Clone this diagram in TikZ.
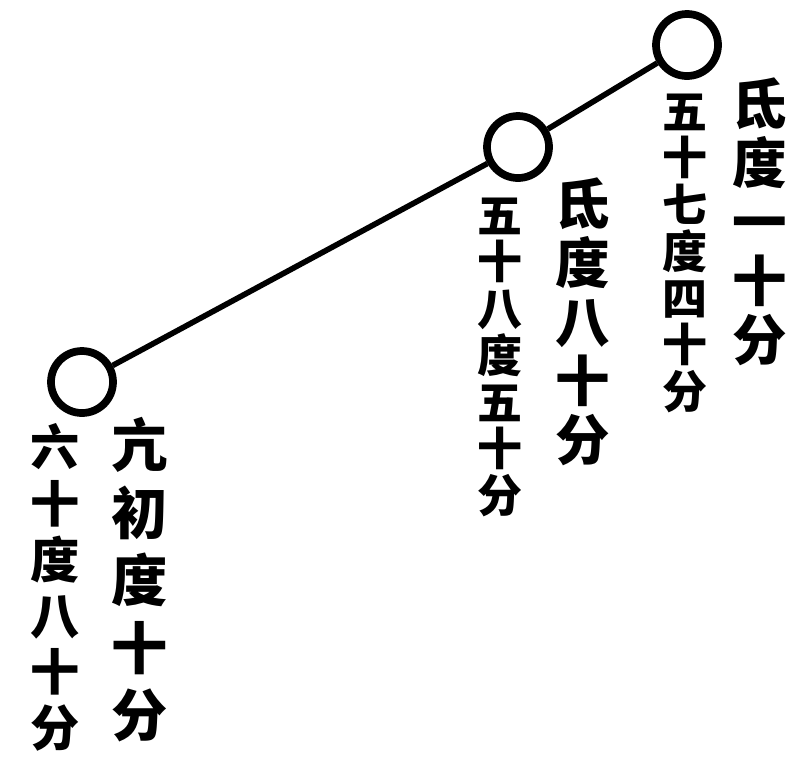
\documentclass[tikz,border=0pt]{standalone}
\usepackage{fontspec}
\usepackage{xcolor}
\usepackage{tikz}
\usetikzlibrary{
  positioning,
  calc
}
\newfontfamily\cjk{Noto Sans CJK SC}
\definecolor{inkblack}{RGB}{0, 0, 0}
\tikzset{
  starnode/.style = {
    circle, draw=inkblack, line width=2.2pt,
    fill=white, minimum size=0.62cm, inner sep=0pt
  },
  link/.style = {draw=inkblack, line width=1.6pt},
  bigcol/.style = {
    inner sep=0pt, anchor=north, align=center, text=inkblack,
    font=\cjk\bfseries\fontsize{15.5}{16.8}\selectfont
  },
  widecol/.style = {
    inner sep=0pt, anchor=north, align=center, text=inkblack,
    font=\cjk\bfseries\fontsize{16}{19.2}\selectfont
  },
  midcol/.style = {
    inner sep=0pt, anchor=north, align=center, text=inkblack,
    font=\cjk\bfseries\fontsize{14}{16}\selectfont
  },
  smallcol/.style = {
    inner sep=0pt, anchor=north, align=center, text=inkblack,
    font=\cjk\bfseries\fontsize{12.8}{13.3}\selectfont
  },
}

\begin{document}
\begin{tikzpicture}
  \useasboundingbox (0,0) rectangle (8.09,7.78);

  % stars
  \node[starnode] (starL) at (0.82,3.96) {};
  \node[starnode] (starM) at (5.18,6.31) {};
  \node[starnode] (starR) at (6.87,7.33) {};

  \draw[link] (starL) -- (starM);
  \draw[link] (starM) -- (starR);

  % positions, right column first
  \node[widecol]  (ralL) at (1.40,3.61) {亢\\初\\度\\十\\分};
  \node[midcol]   (decL) at (0.55,3.55) {六\\十\\度\\八\\十\\分};
  \node[bigcol]   (ralM) at (5.83,6.01) {氐\\度\\八\\十\\分};
  \node[smallcol] (decM) at (5.00,5.81) {五\\十\\八\\度\\五\\十\\分};
  \node[bigcol]   (ralR) at (7.60,7.01) {氐\\度\\一\\十\\分};
  \node[smallcol] (decR) at (6.85,6.85) {五\\十\\七\\度\\四\\十\\分};

\end{tikzpicture}
\end{document}
